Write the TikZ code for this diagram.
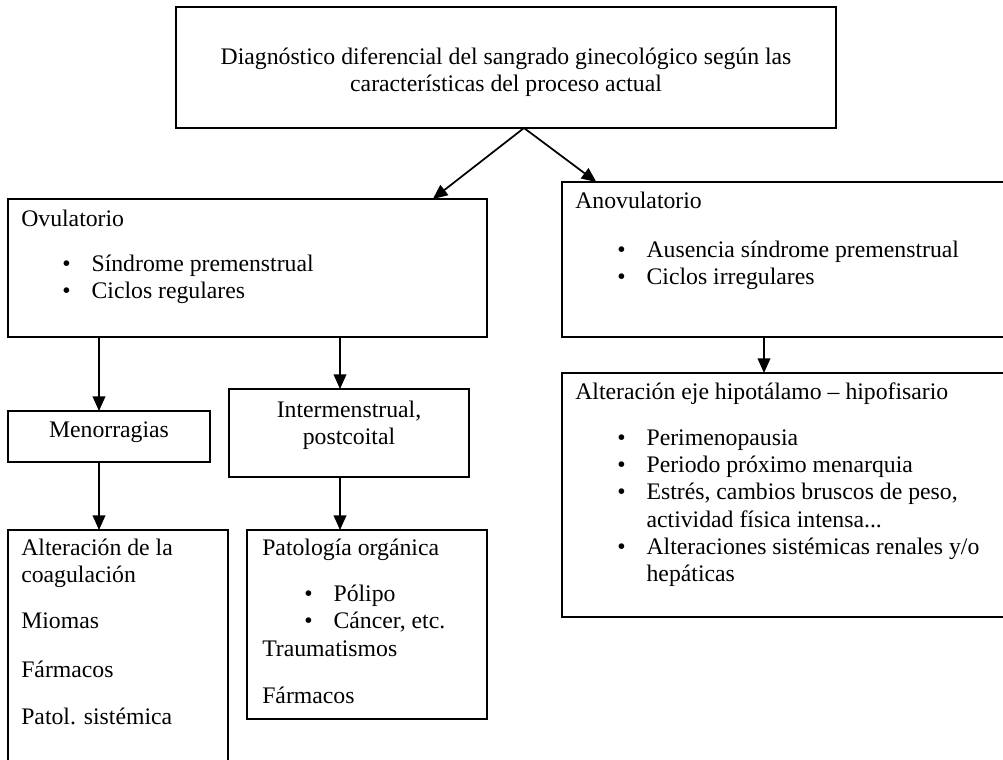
\documentclass[tikz,border=0pt]{standalone}
\usepackage{fontspec}
\setmainfont{Liberation Serif}
\usetikzlibrary{arrows.meta,fit}

\newcommand{\tlines}[1]{\begin{tabular}[t]{@{}l@{}}#1\end{tabular}}
\newcommand{\clines}[1]{\begin{tabular}[t]{@{}c@{}}#1\end{tabular}}
\newcommand{\blist}[1]{\begin{tabular}[t]{@{}p{22pt}@{}l@{}}#1\end{tabular}}

\begin{document}
\begin{tikzpicture}[x=0.75pt,y=-0.75pt,
    font=\fontsize{17.8}{20.5}\selectfont,
    box/.style={draw,line width=1.5pt,inner sep=0pt,outer sep=0pt},
    txt/.style={anchor=base west,inner sep=0pt},
    arr/.style={line width=1.3pt,-{Triangle[length=11pt,width=9.5pt]}}]
  \useasboundingbox (0,0) rectangle (1003,760);

  \node[box,fit={(176,7) (836,128)}] (diag) {};
  \node[box,fit={(8,199) (487,337)}] (ovul) {};
  \node[box,fit={(562,182) (1012,337)}] (anov) {};
  \node[box,fit={(562,373) (1012,617)}] (hipot) {};
  \node[box,fit={(8,411) (210,462)}] (menor) {};
  \node[box,fit={(229,389) (469,477)}] (inter) {};
  \node[box,fit={(8,530) (228,780)}] (coag) {};
  \node[box,fit={(247,530) (487,719)}] (organ) {};

  \node[inner sep=0pt,anchor=base] (diag-t) at (506,64)
    {\clines{Diagnóstico diferencial del sangrado ginecológico según las\\
      características del proceso actual}};

  \node[txt] (ovul-t) at (21,226) {Ovulatorio};
  \node[txt] (ovul-l) at (62,271)
    {\blist{\textbullet & Síndrome premenstrual\\ \textbullet & Ciclos regulares}};

  \node[txt] (anov-t) at (575,208) {Anovulatorio};
  \node[txt] (anov-l) at (617,257)
    {\blist{\textbullet & Ausencia síndrome premenstrual\\ \textbullet & Ciclos irregulares}};

  \node[txt] (hipot-t) at (575,399) {Alteración eje hipotálamo -- hipofisario};
  \node[txt] (hipot-l) at (617,445)
    {\blist{\textbullet & Perimenopausia\\
      \textbullet & Periodo próximo menarquia\\
      \textbullet & Estrés, cambios bruscos de peso,\\
      & actividad física intensa...\\
      \textbullet & Alteraciones sistémicas renales y/o\\
      & hepáticas}};

  \node[inner sep=0pt,anchor=base] (menor-t) at (109,437) {Menorragias};
  \node[inner sep=0pt,anchor=base] (inter-t) at (349,417)
    {\clines{Intermenstrual,\\ postcoital}};

  \node[txt] (coag-t) at (21,555) {\tlines{Alteración de la\\ coagulación}};
  \node[txt] (coag-m) at (21,628) {Miomas};
  \node[txt] (coag-f) at (21,677) {Fármacos};
  \node[txt] (coag-p) at (21,724) {Patol. sistémica};

  \node[txt] (organ-t) at (262,555) {Patología orgánica};
  \node[txt] (organ-l) at (304,601)
    {\blist{\textbullet & Pólipo\\ \textbullet & Cáncer, etc.}};
  \node[txt] (organ-tr) at (262,656) {Traumatismos};
  \node[txt] (organ-f) at (262,703) {Fármacos};

  \coordinate (apex) at (524,128);
  \coordinate (c1) at (99,0);
  \coordinate (c2) at (340,0);
  \coordinate (c3) at (764,0);

  \draw[arr] (apex) -- ([xshift=139pt]ovul.north);
  \draw[arr] (apex) -- ([xshift=-143pt]anov.north);
  \draw[arr] (ovul.south -| c1) -- (menor.north -| c1);
  \draw[arr] (ovul.south -| c2) -- (inter.north -| c2);
  \draw[arr] (menor.south -| c1) -- (coag.north -| c1);
  \draw[arr] (inter.south -| c2) -- (organ.north -| c2);
  \draw[arr] (anov.south -| c3) -- (hipot.north -| c3);
\end{tikzpicture}
\end{document}
